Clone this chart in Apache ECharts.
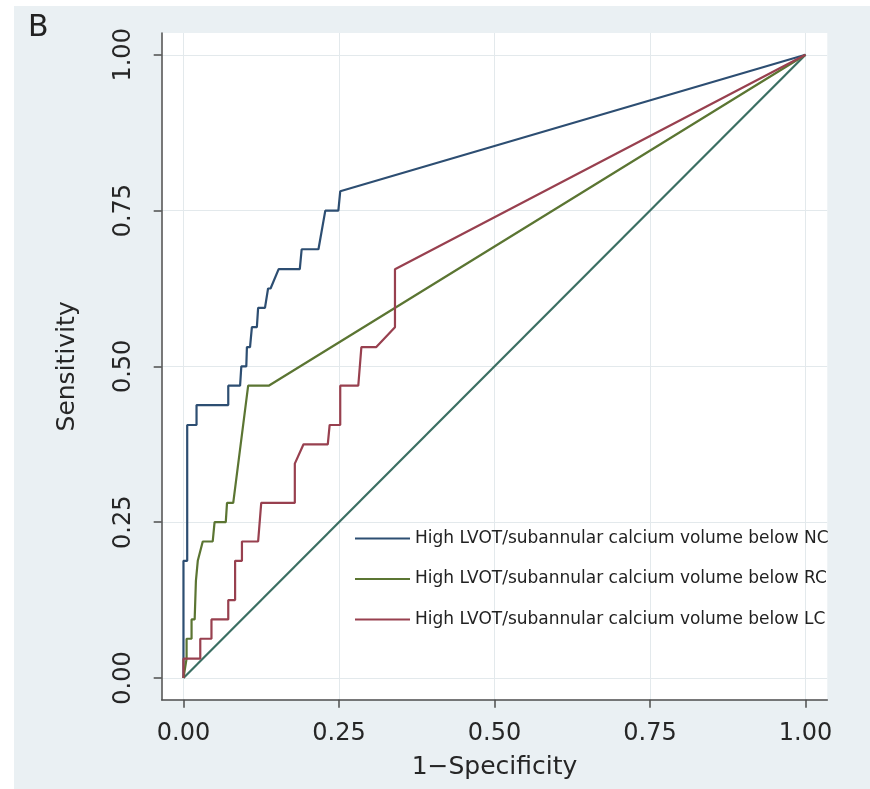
<!DOCTYPE html>
<html>
<head>
<meta charset="utf-8">
<script src="https://cdn.jsdelivr.net/npm/echarts@6/dist/echarts.min.js"></script>
<style>
  html, body { margin: 0; padding: 0; background: #fff; }
  .backdrop { position: absolute; left: 14px; top: 6px; width: 856px; height: 783px; background: #eaf0f3; }
  #rocChart { position: absolute; left: 0; top: 0; width: 870px; height: 789px; }
</style>
</head>
<body>
<div class="backdrop"></div>
<div id="rocChart"></div>
<script>
// tick labels on both axes
const tickValues = [0, 0.25, 0.5, 0.75, 1]

const legendNames = [
    'High LVOT/subannular calcium volume below NC',
    'High LVOT/subannular calcium volume below RC',
    'High LVOT/subannular calcium volume below LC'
]

// NC curve (1-specificity, sensitivity)
const ncFpr = [0, 0, 0.006, 0.006, 0.021, 0.021, 0.072, 0.072, 0.091, 0.093, 0.101, 0.102, 0.107, 0.110, 0.118, 0.120, 0.131, 0.136, 0.140, 0.153, 0.187, 0.190, 0.217, 0.228, 0.249, 0.252, 1]
const ncTpr = [0, 0.188, 0.188, 0.406, 0.406, 0.438, 0.438, 0.469, 0.469, 0.500, 0.500, 0.531, 0.531, 0.563, 0.563, 0.594, 0.594, 0.625, 0.625, 0.656, 0.656, 0.688, 0.688, 0.750, 0.750, 0.781, 1]

// RC curve
const rcFpr = [0, 0.005, 0.005, 0.013, 0.013, 0.018, 0.020, 0.023, 0.031, 0.047, 0.050, 0.068, 0.070, 0.080, 0.104, 0.137, 1]
const rcTpr = [0, 0.031, 0.063, 0.063, 0.094, 0.094, 0.156, 0.188, 0.219, 0.219, 0.250, 0.250, 0.281, 0.281, 0.469, 0.469, 1]

// LC curve
const lcFpr = [0, 0, 0.027, 0.027, 0.045, 0.045, 0.072, 0.072, 0.083, 0.083, 0.094, 0.094, 0.120, 0.125, 0.179, 0.179, 0.193, 0.232, 0.235, 0.252, 0.252, 0.281, 0.286, 0.310, 0.340, 0.340, 1]
const lcTpr = [0, 0.031, 0.031, 0.063, 0.063, 0.094, 0.094, 0.125, 0.125, 0.188, 0.188, 0.219, 0.219, 0.281, 0.281, 0.344, 0.375, 0.375, 0.406, 0.406, 0.469, 0.469, 0.531, 0.531, 0.563, 0.656, 1]

// reference diagonal
const refFpr = [0, 1]
const refTpr = [0, 1]

const fontName = 'DejaVu Sans'
const textColor = '#262626'
const axisColor = '#4d4d4d'
const gridColor = '#e3e9ec'

function toPairs(xs, ys) {
    return xs.map((x, i) => [x, ys[i]])
}

function makeAxis(name, nameGap, labelMargin, rotate) {
    return {
        type: 'value',
        min: -0.035,
        max: 1.035,
        name: name,
        nameLocation: 'middle',
        nameGap: nameGap,
        nameMoveOverlap: false,
        nameTextStyle: { fontSize: 25, color: textColor, fontFamily: fontName },
        axisLine: { show: true, onZero: false, lineStyle: { color: axisColor, width: 1.5 } },
        axisTick: { show: true, customValues: tickValues, length: 8, lineStyle: { color: axisColor, width: 1.5 } },
        axisLabel: {
            customValues: tickValues,
            rotate: rotate,
            margin: labelMargin,
            fontSize: 24,
            color: textColor,
            fontFamily: fontName,
            formatter: (v) => v.toFixed(2)
        },
        splitLine: { show: true, lineStyle: { color: gridColor, width: 1 } }
    }
}

const chart = echarts.init(document.getElementById('rocChart'))

const option = {
    animation: false,
    backgroundColor: 'transparent',
    textStyle: { fontFamily: fontName },
    grid: {
        left: 161.7,
        right: 42.7,
        top: 33,
        bottom: 89.2,
        show: true,
        backgroundColor: '#ffffff',
        borderWidth: 0,
        outerBoundsMode: 'none'
    },
    graphic: [
        { type: 'text', left: 28, top: 13, style: { text: 'B', fontSize: 30, fontFamily: fontName, fill: '#222' } }
    ],
    legend: {
        data: legendNames,
        orient: 'vertical',
        left: 350,
        top: 525,
        itemWidth: 55,
        itemHeight: 2,
        itemGap: 23.5,
        icon: 'rect',
        textStyle: { fontSize: 17, color: '#222', fontFamily: fontName }
    },
    xAxis: makeAxis('1\u2212Specificity', 55, 22, 0),
    yAxis: makeAxis('Sensitivity', 82, 26, 90),
    series: [
        {
            name: 'reference',
            type: 'line',
            data: toPairs(refFpr, refTpr),
            symbol: 'none',
            lineStyle: { color: '#3b6f63', width: 2.2 },
            itemStyle: { color: '#3b6f63' }
        },
        {
            name: legendNames[0],
            type: 'line',
            data: toPairs(ncFpr, ncTpr),
            symbol: 'none',
            lineStyle: { color: '#2d4e72', width: 2.2 },
            itemStyle: { color: '#2d4e72' }
        },
        {
            name: legendNames[1],
            type: 'line',
            data: toPairs(rcFpr, rcTpr),
            symbol: 'none',
            lineStyle: { color: '#5b7532', width: 2.2 },
            itemStyle: { color: '#5b7532' }
        },
        {
            name: legendNames[2],
            type: 'line',
            data: toPairs(lcFpr, lcTpr),
            symbol: 'none',
            lineStyle: { color: '#98404f', width: 2.2 },
            itemStyle: { color: '#98404f' }
        }
    ]
}

chart.setOption(option)
</script>
</body>
</html>
